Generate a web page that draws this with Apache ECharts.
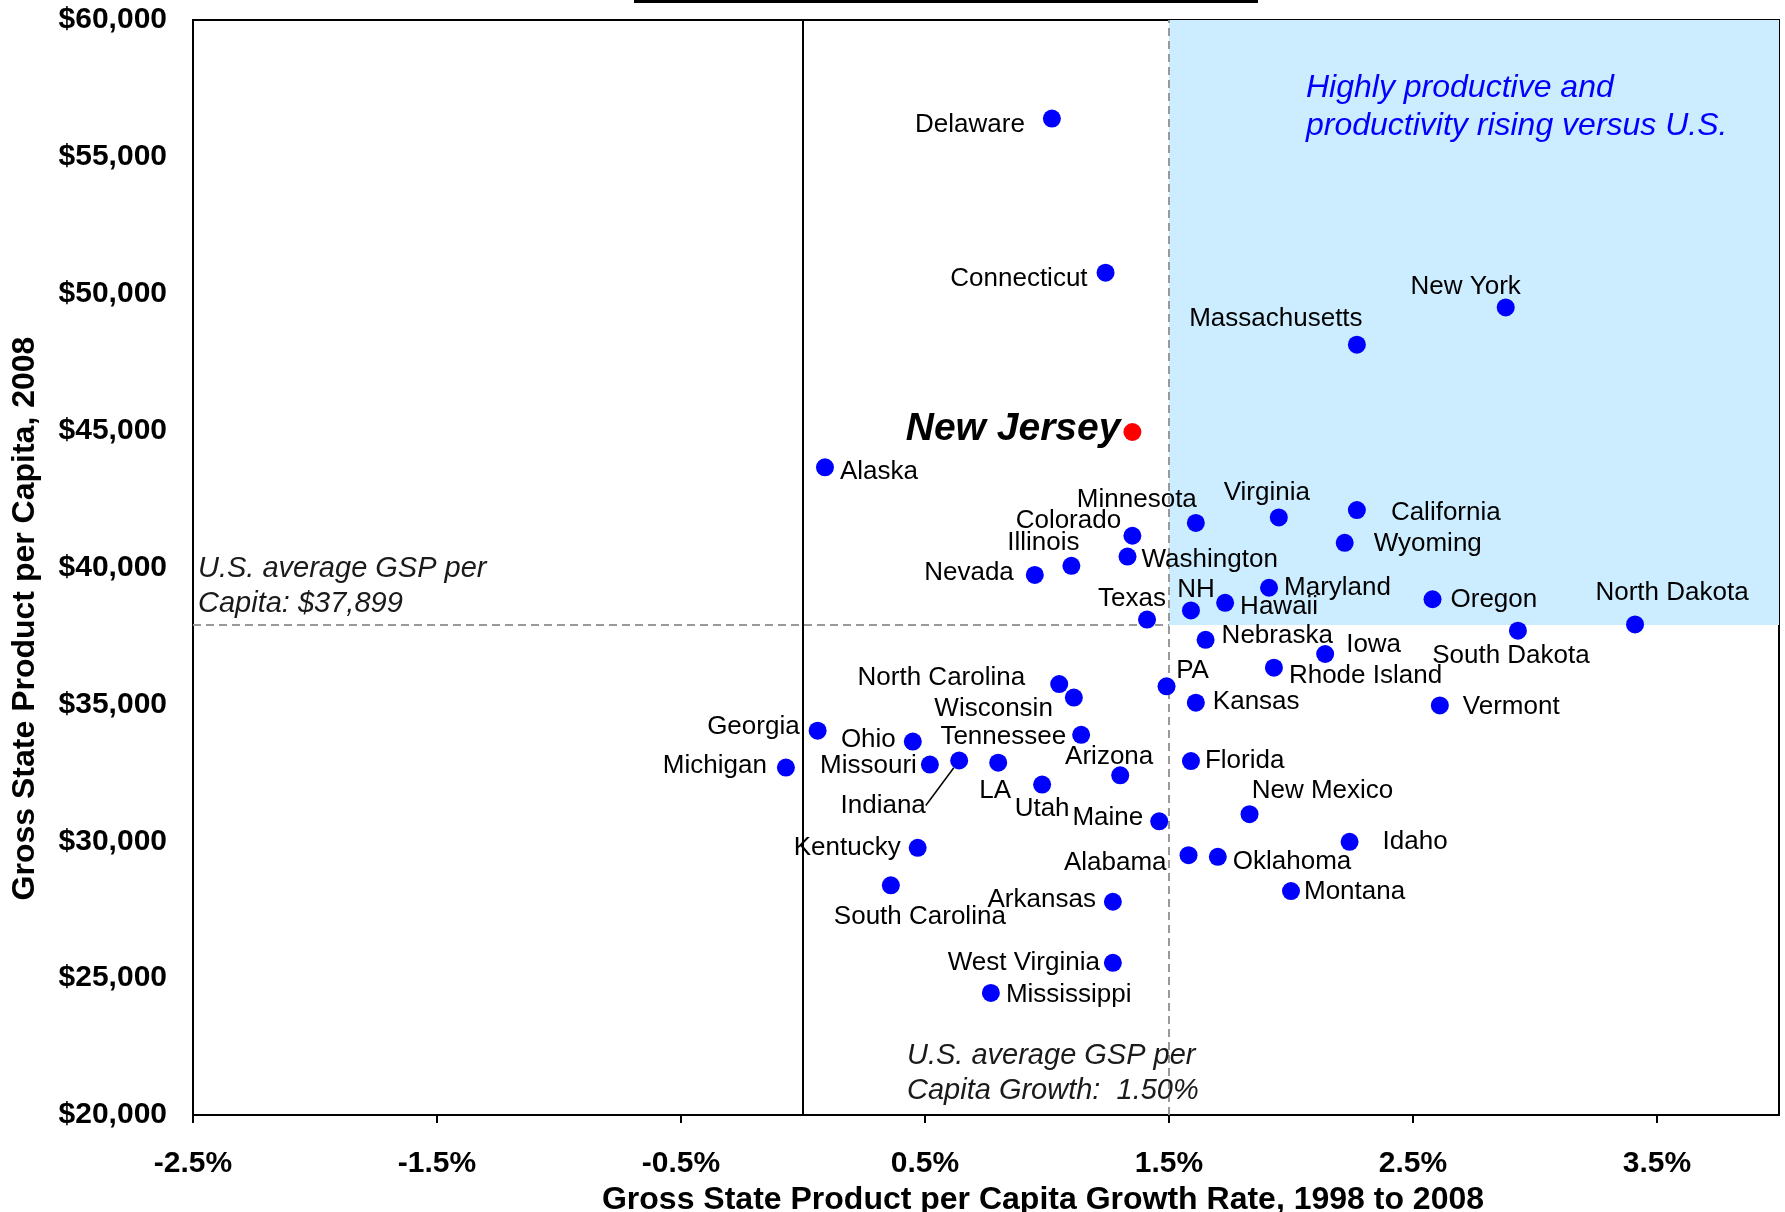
<!DOCTYPE html>
<html>
<head>
<meta charset="utf-8">
<script src="https://cdn.jsdelivr.net/npm/echarts@6/dist/echarts.min.js"></script>
<style>
  html, body { margin: 0; padding: 0; background: #fff; }
  #main { width: 1785px; height: 1212px; }
</style>
</head>
<body>
<div id="main"></div>
<script>
// states, growth rate 1998-2008 (%), GSP per capita 2008 ($)
var states = ['Delaware', 'Connecticut', 'New York', 'Massachusetts', 'New Jersey', 'Alaska',
  'Minnesota', 'Virginia', 'California', 'Colorado', 'Wyoming', 'Washington', 'Illinois',
  'Nevada', 'Maryland', 'Oregon', 'NH', 'Hawaii', 'Texas', 'North Dakota', 'South Dakota',
  'Nebraska', 'Iowa', 'Rhode Island', 'PA', 'North Carolina', 'Wisconsin', 'Kansas',
  'Vermont', 'Georgia', 'Tennessee', 'Ohio', 'Michigan', 'Missouri', 'Indiana', 'LA',
  'Florida', 'Arizona', 'Utah', 'New Mexico', 'Maine', 'Idaho', 'Kentucky', 'Alabama',
  'Oklahoma', 'Montana', 'South Carolina', 'Arkansas', 'West Virginia', 'Mississippi'];

var growth = [1.02, 1.24, 2.88, 2.27, 1.35, 0.09,
  1.61, 1.95, 2.27, 1.35, 2.22, 1.33, 1.10,
  0.95, 1.91, 2.58, 1.59, 1.73, 1.41, 3.41, 2.93,
  1.65, 2.14, 1.93, 1.49, 1.05, 1.11, 1.61,
  2.61, 0.06, 1.14, 0.45, -0.07, 0.52, 0.64, 0.80,
  1.59, 1.30, 0.98, 1.83, 1.46, 2.24, 0.47, 1.58,
  1.70, 2.00, 0.36, 1.27, 1.27, 0.77];

var gsp = [56400, 50770, 49500, 48140, 44950, 43660,
  41630, 41830, 42100, 41160, 40900, 40400, 40060,
  39730, 39260, 38840, 38430, 38710, 38100, 37920, 37690,
  37360, 36840, 36340, 35660, 35740, 35250, 35060,
  34960, 34040, 33890, 33640, 32690, 32800, 32950, 32870,
  32930, 32410, 32070, 30990, 30730, 29980, 29760, 29490,
  29430, 28180, 28390, 27790, 25560, 24460];

var usAvgGrowth = 1.5;     // U.S. average GSP per capita growth
var usAvgGsp = 37899;      // U.S. average GSP per capita
var xMin = -2.5, xMax = 4.0, xStep = 1;
var yMin = 20000, yMax = 60000, yStep = 5000;

// label placement: [side, distance, dy] or ['c', dx, dy]
var labelSpec = {
  'Delaware': ['left', 18, 6], 'Connecticut': ['left', 9, 6], 'New Jersey': ['left', 3, -3],
  'Alaska': ['right', 6, 5], 'California': ['right', 25, 3], 'Wyoming': ['right', 20, 1],
  'Washington': ['right', 5, 3], 'Nevada': ['left', 12, -2], 'Maryland': ['right', 6, 0],
  'Oregon': ['right', 9, 1], 'Hawaii': ['right', 6, 4], 'Nebraska': ['right', 7, -4],
  'Iowa': ['right', 12, -9], 'Rhode Island': ['right', 6, 8], 'Kansas': ['right', 8, -1],
  'North Carolina': ['left', 25, -6], 'Tennessee': ['left', 6, 2], 'Ohio': ['left', 8, -2],
  'Georgia': ['left', 9, -4], 'Michigan': ['left', 10, -2], 'Missouri': ['left', 4, 1],
  'Maine': ['left', 7, -3], 'Kentucky': ['left', 8, 0], 'Alabama': ['left', 13, 8],
  'Arkansas': ['left', 8, -2], 'West Virginia': ['left', 4, 0], 'Mississippi': ['right', 6, 2],
  'Florida': ['right', 5, 0], 'Idaho': ['right', 24, 0], 'Oklahoma': ['right', 6, 5],
  'Montana': ['right', 4, 1], 'Vermont': ['right', 14, 1], 'Wisconsin': ['left', 12, 11],
  'Massachusetts': ['c', -81, -26], 'New York': ['c', -40, -21], 'Minnesota': ['c', -59, -23],
  'Virginia': ['c', -12, -25], 'Colorado': ['c', -64, -15], 'Illinois': ['c', -28, -23],
  'NH': ['c', 5, -21], 'Texas': ['c', -15, -21], 'North Dakota': ['c', 37, -32],
  'South Dakota': ['c', -7, 25], 'PA': ['c', 26, -15], 'Indiana': ['c', -76, 45],
  'LA': ['c', -3, 28], 'Utah': ['c', 0, 24], 'Arizona': ['c', -11, -18],
  'New Mexico': ['c', 73, -23], 'South Carolina': ['c', 29, 32]
};

var FONT = '"Liberation Sans", Arial, Helvetica, sans-serif';

var points = states.map(function (s, i) {
  var sp = labelSpec[s];
  var label = sp[0] === 'c'
    ? { position: 'inside', offset: [sp[1], sp[2]] }
    : { position: sp[0], distance: sp[1], offset: [0, sp[2]] };
  var item = { name: s, value: [growth[i], gsp[i]], label: label };
  if (s === 'New Jersey') {
    item.itemStyle = { color: '#FF0000' };
    label.fontSize = 39;
    label.fontWeight = 'bold';
    label.fontStyle = 'italic';
  }
  if (s === 'Indiana') {
    item.labelLine = { show: true, lineStyle: { color: '#000', width: 1.5 } };
  }
  return item;
});

var chart = echarts.init(document.getElementById('main'));

var option = {
  animation: false,
  backgroundColor: '#fff',
  textStyle: { fontFamily: FONT },
  grid: {
    left: 193, right: 6, top: 20, bottom: 97,
    outerBoundsMode: 'none',
    containLabel: false,
    show: true, borderColor: '#000', borderWidth: 2, backgroundColor: 'transparent'
  },
  xAxis: {
    type: 'value',
    min: xMin, max: xMax, interval: xStep,
    name: 'Gross State Product per Capita Growth Rate, 1998 to 2008',
    nameLocation: 'middle',
    nameGap: 66,
    nameTextStyle: { fontSize: 32, fontWeight: 'bold', color: '#000', fontFamily: FONT, padding: [0, 0, 0, 114] },
    axisLine: { lineStyle: { color: '#000', width: 2 } },
    axisTick: { show: true, length: 8, lineStyle: { color: '#000', width: 2 } },
    axisLabel: {
      fontSize: 30, fontWeight: 'bold', color: '#000', margin: 34, fontFamily: FONT,
      showMaxLabel: false,
      formatter: function (v) { return v.toFixed(1) + '%'; }
    },
    splitLine: { show: false }
  },
  yAxis: {
    type: 'value',
    min: yMin, max: yMax, interval: yStep,
    name: 'Gross State Product per Capita, 2008',
    nameLocation: 'middle',
    nameGap: 152,
    nameTextStyle: { fontSize: 32, fontWeight: 'bold', color: '#000', fontFamily: FONT, padding: [0, 102, 0, 0] },
    axisLine: { show: true, lineStyle: { color: '#000', width: 2 } },
    axisTick: { show: false },
    axisLabel: {
      fontSize: 30, fontWeight: 'bold', color: '#000', margin: 26, fontFamily: FONT,
      formatter: function (v) { return '$' + v.toLocaleString('en-US'); }
    },
    splitLine: { show: false }
  },
  graphic: [
    { type: 'rect', left: 634, top: 0, z: 10, shape: { width: 624, height: 3 }, style: { fill: '#000' } },
    {
      type: 'text', x: 1306, y: 107.5, z: 10,
      style: {
        text: 'Highly productive and\nproductivity rising versus U.S.',
        fill: '#0000FF', font: 'italic 32px ' + FONT, lineHeight: 38,
        textAlign: 'left', textVerticalAlign: 'middle'
      }
    },
    {
      type: 'text', x: 198, y: 586, z: 10,
      style: {
        text: 'U.S. average GSP per\nCapita: $37,899',
        fill: '#1a1a1a', font: 'italic 29px ' + FONT, lineHeight: 35,
        textAlign: 'left', textVerticalAlign: 'middle'
      }
    },
    {
      type: 'text', x: 907, y: 1073, z: 10,
      style: {
        text: 'U.S. average GSP per\nCapita Growth:  1.50%',
        fill: '#1a1a1a', font: 'italic 29px ' + FONT, lineHeight: 35,
        textAlign: 'left', textVerticalAlign: 'middle'
      }
    }
  ],
  series: [
    {
      // reference region and lines
      type: 'scatter',
      z: 1,
      data: [],
      markArea: {
        silent: true,
        z: 0,
        itemStyle: { color: '#CCECFF' },
        data: [[{ coord: [usAvgGrowth, usAvgGsp] }, { coord: [xMax, yMax] }]]
      },
      markLine: {
        silent: true,
        z: 1,
        symbol: 'none',
        label: { show: false },
        data: [
          { xAxis: 0, lineStyle: { color: '#000', type: 'solid', width: 1.5 } },
          { xAxis: usAvgGrowth, lineStyle: { color: '#999', type: [8, 5], width: 2 } },
          [
            { coord: [xMin, usAvgGsp], lineStyle: { color: '#999', type: [8, 5], width: 2 } },
            { coord: [usAvgGrowth, usAvgGsp], lineStyle: { color: '#999', type: [8, 5], width: 2 } }
          ]
        ]
      }
    },
    {
      name: 'States',
      type: 'scatter',
      z: 3,
      symbol: 'circle',
      symbolSize: 18,
      itemStyle: { color: '#0000FF', opacity: 1 },
      label: {
        show: true,
        formatter: '{b}',
        color: '#000',
        fontSize: 26,
        fontFamily: FONT
      },
      emphasis: { disabled: true },
      data: points
    }
  ]
};

chart.setOption(option);
</script>
</body>
</html>
